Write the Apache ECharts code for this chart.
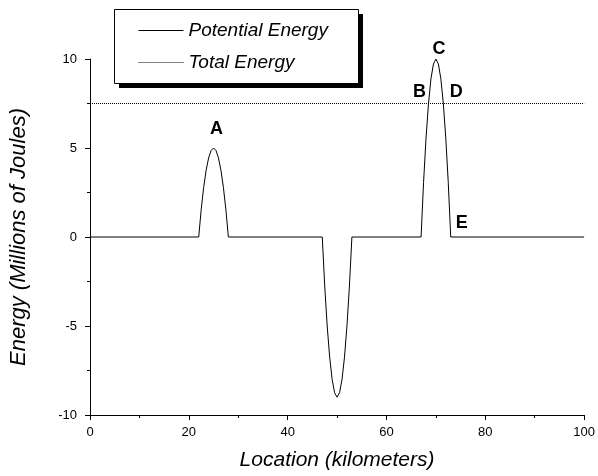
<!DOCTYPE html>
<html>
<head>
<meta charset="utf-8">
<script src="https://cdn.jsdelivr.net/npm/echarts@6/dist/echarts.min.js"></script>
<style>
html,body{margin:0;padding:0;background:#fff;}
#chart{width:598px;height:476px;}
</style>
</head>
<body>
<div id="chart"></div>
<script>
// Location (km) and potential energy (millions of J)
const locationKm = [0, 22, 22.5, 23, 23.5, 24, 24.5, 25, 25.5, 26, 26.5, 27, 27.5, 28,
  47, 47.5, 48, 48.5, 49, 49.5, 50, 50.5, 51, 51.5, 52, 52.5, 53,
  67, 67.5, 68, 68.5, 69, 69.5, 70, 70.5, 71, 71.5, 72, 72.5, 73, 100];
const potentialEnergy = [0, 0, 1.53, 2.78, 3.75, 4.44, 4.86, 5, 4.86, 4.44, 3.75, 2.78, 1.53, 0,
  0, -2.75, -5, -6.75, -8, -8.75, -9, -8.75, -8, -6.75, -5, -2.75, 0,
  0, 3.06, 5.56, 7.5, 8.89, 9.72, 10, 9.72, 8.89, 7.5, 5.56, 3.06, 0, 0];
const totalLocationKm = [0, 100];
const totalEnergy = [7.5, 7.5];
const seriesNames = ['Potential Energy', 'Total Energy'];
// annotated points
const pointLetters = ['A', 'B', 'C', 'D', 'E'];
const pointLocationKm = [25, 68.5, 70, 71.5, 73];
const pointEnergy = [5, 7.5, 10, 7.5, 0];
const xTitle = 'Location (kilometers)';
const yTitle = 'Energy (Millions of Joules)';

const letterOffsets = [[3, -19], [-9, -11], [3, -10], [13, -11], [11, -14]];

const FONT = 'Liberation Sans, Arial, Helvetica, sans-serif';
const chart = echarts.init(document.getElementById('chart'), null, {renderer: 'canvas'});

const option = {
  animation: false,
  backgroundColor: '#fff',
  grid: {left: 89, right: 12, top: 59, bottom: 61, containLabel: false},
  xAxis: {
    type: 'value', min: 0, max: 100, interval: 20,
    name: xTitle, nameLocation: 'middle', nameGap: 35,
    nameTextStyle: {fontFamily: FONT, fontSize: 21, fontStyle: 'italic', color: '#000'},
    axisLine: {show: true, onZero: false, lineStyle: {color: '#000', width: 1}},
    axisTick: {show: true, inside: false, length: 5, lineStyle: {color: '#000'}},
    minorTick: {show: true, splitNumber: 2, length: 3, lineStyle: {color: '#000'}},
    axisLabel: {fontFamily: FONT, fontSize: 13, color: '#000', margin: 11},
    splitLine: {show: false}
  },
  yAxis: {
    type: 'value', min: -10, max: 10, interval: 5,
    name: yTitle, nameLocation: 'middle', nameGap: 60,
    nameTextStyle: {fontFamily: FONT, fontSize: 22, fontStyle: 'italic', color: '#000'},
    axisLine: {show: true, onZero: false, lineStyle: {color: '#000', width: 1}},
    axisTick: {show: true, inside: false, length: 5, lineStyle: {color: '#000'}},
    minorTick: {show: true, splitNumber: 2, length: 3, lineStyle: {color: '#000'}},
    axisLabel: {fontFamily: FONT, fontSize: 13, color: '#000', margin: 13},
    splitLine: {show: false}
  },
  legend: {
    orient: 'vertical', left: 138, top: 21, padding: 0,
    itemWidth: 45, itemHeight: 13, itemGap: 13, z: 5,
    itemStyle: {color: 'rgba(0,0,0,0)', borderWidth: 0},
    textStyle: {fontFamily: FONT, fontSize: 19, fontStyle: 'italic', color: '#000'},
    data: [
      {name: seriesNames[0], lineStyle: {width: 1, type: 'solid'}},
      {name: seriesNames[1], lineStyle: {width: 1, type: [1, 1]}}
    ]
  },
  graphic: [
    {type: 'rect', z: 1, shape: {x: 119, y: 14, width: 244, height: 74}, style: {fill: '#000'}},
    {type: 'rect', z: 2, shape: {x: 114.5, y: 9.5, width: 244, height: 74}, style: {fill: '#fff', stroke: '#000', lineWidth: 1}}
  ],
  series: [
    {
      name: seriesNames[0], type: 'line', symbol: 'none', z: 3,
      data: locationKm.map((x, i) => [x, potentialEnergy[i]]),
      lineStyle: {color: '#000', width: 1},
      itemStyle: {color: '#000'},
      markPoint: {
        symbol: 'circle', symbolSize: 0,
        itemStyle: {color: 'rgba(0,0,0,0)'},
        label: {show: true, position: 'inside', formatter: '{b}', fontFamily: FONT, fontWeight: 'bold', fontSize: 18, color: '#000'},
        data: pointLetters.map((l, i) => ({name: l, coord: [pointLocationKm[i], pointEnergy[i]], label: {offset: letterOffsets[i]}}))
      }
    },
    {
      name: seriesNames[1], type: 'line', symbol: 'none', z: 3,
      data: totalLocationKm.map((x, i) => [x, totalEnergy[i]]),
      lineStyle: {color: '#000', width: 1, type: [1, 1]},
      itemStyle: {color: '#000'}
    }
  ]
};
chart.setOption(option);
</script>
</body>
</html>
